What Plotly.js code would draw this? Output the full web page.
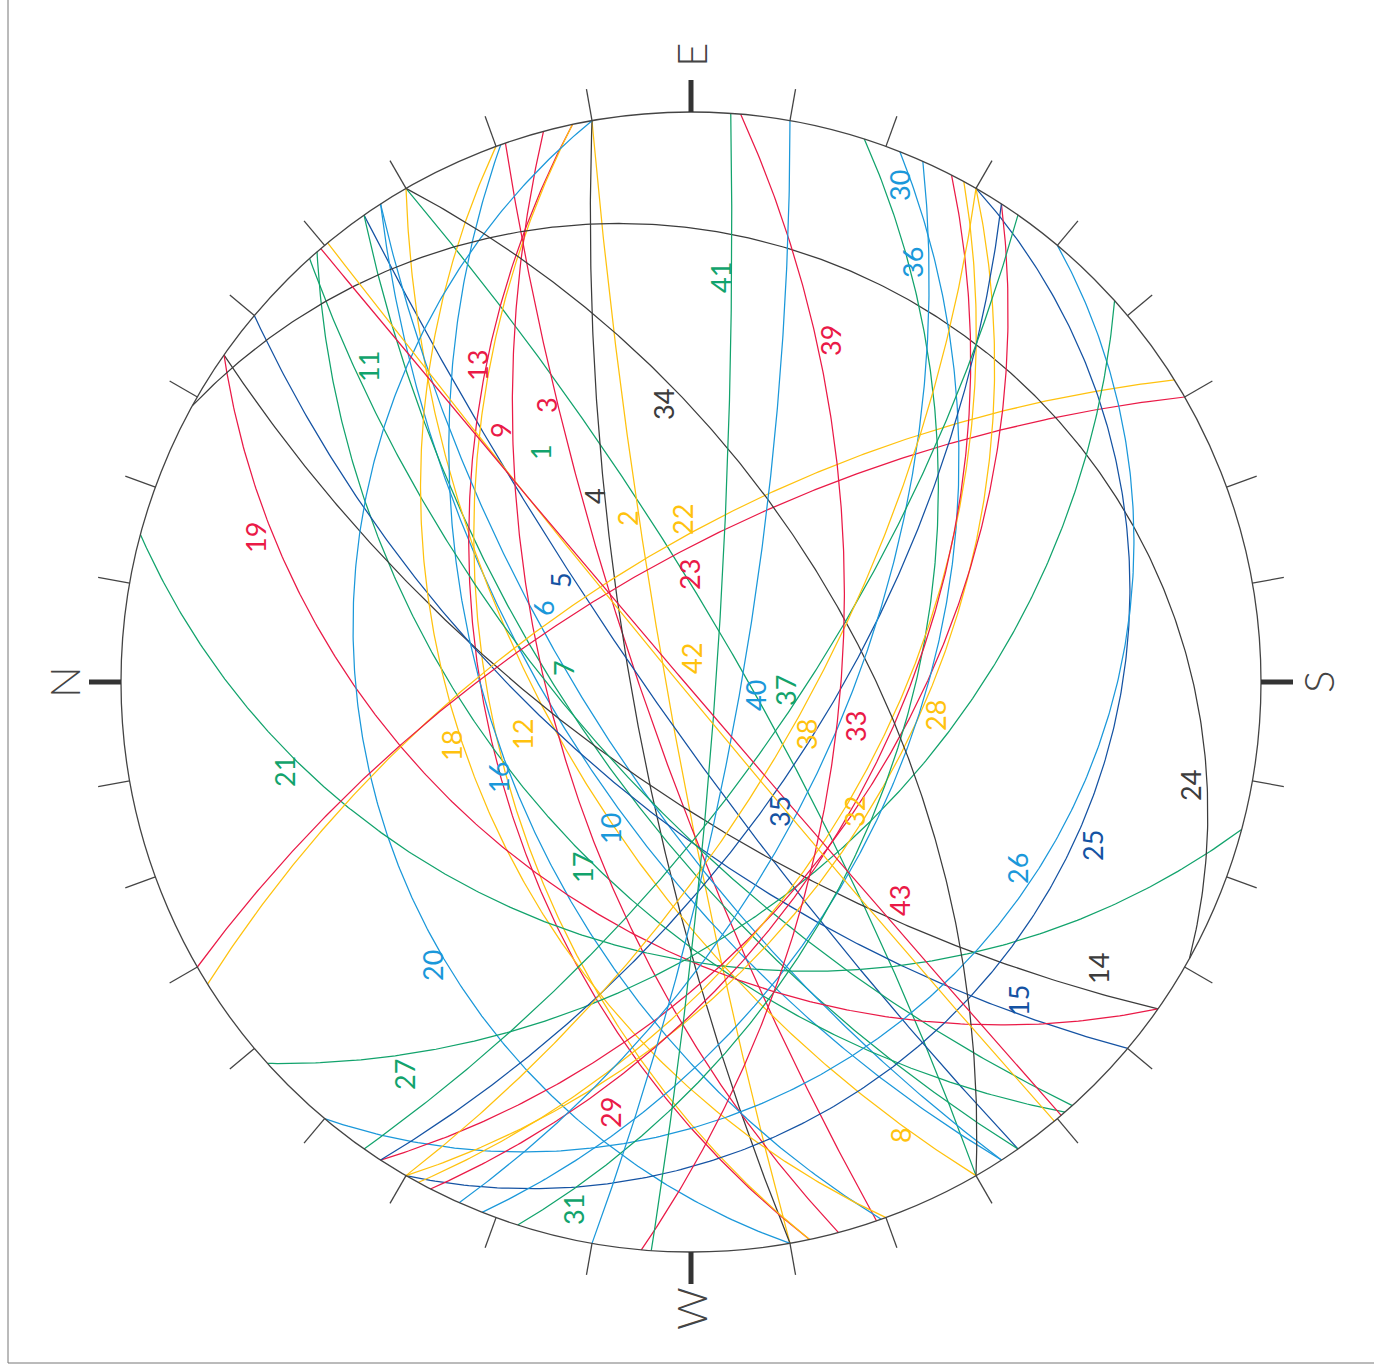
<!DOCTYPE html>
<html><head><meta charset="utf-8">
<script src="https://cdn.plot.ly/plotly-3.0.1.min.js"></script>
<style>html,body{margin:0;padding:0;background:#fff}</style>
</head><body><div id="chart" style="width:1374px;height:1372px"></div>
<script>
// ---- data: planes (dip direction / dip, degrees) ----
const planeIds = [1,2,3,4,5,6,7,8,9,10,11,12,13,14,15,16,17,18,19,20,21,22,23,24,25,26,27,28,29,30,31,32,33,34,35,36,37,38,39,40,41,42,43];
const dipDirection = [150,350,341,350,325,327,325,330,348,327,319,348,345,305,310,340.5,318,340,305,350,285,58,60,119,210,220,228,210,213,201.5,197.7,208.6,207.2,150,213,204,215,210,185,190,184,320.4,319.5];
const dipAngle = [80,85,80,78,82,64,67,62,50,70,52,51,62,68.5,65,51,68,45,43.4,29.4,38.7,64.5,66.4,14.7,18,21,47,48,50,46.8,48.3,52,51,57.8,64,60,70.6,68,60.6,80,85,88,89];
const colorCycle = ['green','yellow','red','black','navy','sky','green','yellow','red','sky'];
const cardinalNames = ['N','E','S','W'];
const cardinalAz = [0,90,180,270];

// ---- styling / placement ----
const palette = {green:'#12a36c', yellow:'#ffc20e', red:'#ea1a47', black:'#3c3c3c', navy:'#1553a3', sky:'#1b98da'};
const CX = 691, CY = 682, R = 570;            // pixel frame of the net
// label anchor positions (pixels in the 1374x1372 frame)
const labelAnchor = {
 1:[540,452],2:[627,518],3:[546,405],4:[594,496],5:[560,580],6:[543,608],7:[563,668],8:[900,1135],9:[500,430],10:[610,829],
 11:[368,367],12:[522,735],13:[477,366],14:[1098,969],15:[1018,1001],16:[498,778],17:[582,868],18:[451,746],19:[255,538],20:[432,966],
 21:[284,772],22:[682,520],23:[689,575],24:[1190,786],25:[1092,846],26:[1017,869],27:[404,1075],28:[935,716],29:[610,1113],30:[899,186],
 31:[573,1210],32:[854,812],33:[855,727],34:[663,405],35:[779,812],36:[912,263],37:[785,691],38:[806,735],39:[830,341],40:[755,696],
 41:[720,278],42:[691,659],43:[899,901]
};
const px2x = p => (p - CX) / R;
const py2y = p => (CY - p) / R;

const d2r = Math.PI / 180;
function greatCircle(dd, dip) {
  const s = (dd - 90) * d2r, a = dd * d2r, b = dip * d2r;
  const sN = Math.cos(s), sE = Math.sin(s);
  const dN = Math.cos(b) * Math.cos(a), dE = Math.cos(b) * Math.sin(a), dD = Math.sin(b);
  const xs = [], ys = [];
  for (let k = 0; k <= 360; k++) {
    const f = k * 0.5 * d2r;
    const vN = Math.cos(f) * sN + Math.sin(f) * dN;
    const vE = Math.cos(f) * sE + Math.sin(f) * dE;
    const vD = Math.max(-1, Math.min(1, Math.sin(f) * dD));
    const pl = Math.asin(vD), tr = Math.atan2(vE, vN);
    const r = Math.tan((Math.PI / 2 - pl) / 2);
    xs.push(-r * Math.cos(tr));   // North points left
    ys.push(r * Math.sin(tr));    // East points up
  }
  return {xs, ys};
}

const traces = [];
planeIds.forEach((id, i) => {
  const g = greatCircle(dipDirection[i], dipAngle[i]);
  traces.push({type:'scatter', mode:'lines', x:g.xs, y:g.ys, hoverinfo:'skip', showlegend:false,
    line:{color: palette[colorCycle[(id - 1) % 10]], width: 1.25}});
});

const shapes = [];
shapes.push({type:'circle', xref:'x', yref:'y', x0:-1, x1:1, y0:-1, y1:1, line:{color:'#444', width:1.3}});
for (let k = 0; k < 36; k++) {
  const az = k * 10 * d2r, major = (k % 9 === 0);
  const ux = -Math.cos(az), uy = Math.sin(az), L = 1 + 32 / R;
  shapes.push({type:'line', xref:'x', yref:'y', x0:ux, y0:uy, x1:ux * L, y1:uy * L,
    line:{color: major ? '#333' : '#444', width: major ? 5 : 1.3}});
}
shapes.push({type:'line', xref:'paper', yref:'paper', x0:8/1374, x1:8/1374, y0:1, y1:(1372-1363)/1372, line:{color:'#777', width:1}});
shapes.push({type:'line', xref:'paper', yref:'paper', x0:8/1374, x1:1, y0:(1372-1363)/1372, y1:(1372-1363)/1372, line:{color:'#777', width:1}});

const annotations = [];
cardinalNames.forEach((n, i) => {
  const az = cardinalAz[i] * d2r, rr = 1.1;
  annotations.push({x:-Math.cos(az) * rr, y:Math.sin(az) * rr, xref:'x', yref:'y', text:n, showarrow:false,
    textangle:-90, font:{family:'Lato, DejaVu Sans, sans-serif', size:42, color:'#444', weight:300}});
});
planeIds.forEach((id) => {
  const p = labelAnchor[id];
  annotations.push({x:px2x(p[0]), y:py2y(p[1]), xref:'x', yref:'y', text:String(id), showarrow:false,
    textangle:-90, font:{family:'Lato, DejaVu Sans, sans-serif', size:27, color: palette[colorCycle[(id - 1) % 10]], weight:400}});
});

const layout = {
  width:1374, height:1372, margin:{l:0, r:0, t:0, b:0}, paper_bgcolor:'#fff', plot_bgcolor:'#fff',
  xaxis:{range:[-CX / R, (1374 - CX) / R], visible:false, fixedrange:true},
  yaxis:{range:[(CY - 1372) / R, CY / R], visible:false, fixedrange:true},
  shapes, annotations, showlegend:false
};
Plotly.newPlot('chart', traces, layout, {displayModeBar:false, staticPlot:true});
</script></body></html>
